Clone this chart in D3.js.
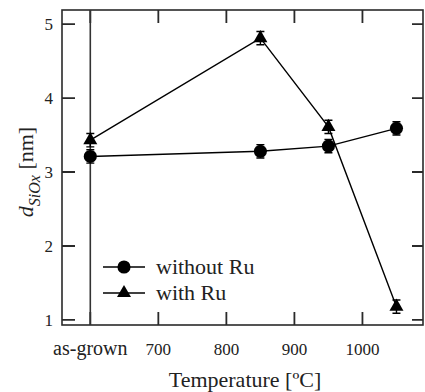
<!DOCTYPE html>
<html><head><meta charset="utf-8">
<script src="https://cdn.jsdelivr.net/npm/d3@7"></script>
<style>body{margin:0;background:#fff}svg{display:block}</style>
</head><body>
<script>
const temps = [600, 850, 950, 1050];
const withoutRu = [3.21, 3.28, 3.35, 3.59];
const withRu = [3.43, 4.81, 3.61, 1.18];
const errWithout = [0.09, 0.09, 0.09, 0.09];
const errWith = [0.09, 0.09, 0.09, 0.09];
const xTickVals = [600, 700, 800, 900, 1000];
const xTickLabels = ["as-grown", "700", "800", "900", "1000"];
const yTickVals = [1, 2, 3, 4, 5];
const seriesNames = ["without Ru", "with Ru"];

const FONT = "'Liberation Serif', serif";
const W = 425, H = 392;
const L = 62, R = 423, T = 10, B = 325;
const svg = d3.select("body").append("svg").attr("width", W).attr("height", H);
const x = d3.scaleLinear().domain([558.4, 1089]).range([L, R]);
const y = d3.scaleLinear().domain([0.932, 5.19]).range([B, T]);
const frame = "#2a2a2a";

svg.append("rect").attr("x", L).attr("y", T).attr("width", R - L).attr("height", B - T)
  .attr("fill", "none").attr("stroke", frame).attr("stroke-width", 1.6);

// ticks (inward)
const ticks = svg.append("g").attr("stroke", frame).attr("stroke-width", 1.8).attr("fill", "none");
xTickVals.forEach(v => {
  ticks.append("path").attr("d", `M${x(v)},${B}V${B - 13}M${x(v)},${T}V${T + 13}`);
});
yTickVals.forEach(v => {
  ticks.append("path").attr("d", `M${L},${y(v)}H${L + 13}M${R},${y(v)}H${R - 11}`);
});

// vertical line at as-grown
svg.append("path").attr("d", `M${x(600)},${T}V${B}`)
  .attr("stroke", "#333").attr("stroke-width", 1.6);

// tick labels
xTickVals.forEach((v, i) => {
  svg.append("text").attr("x", x(v)).attr("y", 355)
    .attr("text-anchor", "middle").attr("fill", "#222")
    .style("font-family", FONT).style("font-size", (i === 0 ? 20 : 17) + "px")
    .text(xTickLabels[i]);
});
yTickVals.forEach(v => {
  svg.append("text").attr("x", 53).attr("y", y(v) + 6).attr("fill", "#222")
    .attr("text-anchor", "end").style("font-family", FONT).style("font-size", "17px").text(v);
});

// axis titles
svg.append("text").attr("x", 245).attr("y", 387).attr("text-anchor", "middle")
  .attr("fill", "#222").style("font-family", FONT).style("font-size", "22px").text("Temperature [ºC]");
const yt = svg.append("text").attr("transform", "translate(33,172) rotate(-90)")
  .attr("text-anchor", "middle").style("font-family", FONT).style("font-size", "22px").attr("fill", "#222");
yt.append("tspan").style("font-style", "italic").text("d");
yt.append("tspan").style("font-style", "italic").style("font-size", "16px").attr("dy", 7).text("SiOx");
yt.append("tspan").attr("dy", -7).text(" [nm]");

const line = d3.line().x(d => x(d[0])).y(d => y(d[1]));
const triPath = d3.symbol().type(d3.symbolTriangle).size(85)();
const circPath = d3.symbol().type(d3.symbolCircle).size(135)();

function drawSeries(vals, errs, path) {
  const pts = temps.map((t, i) => [t, vals[i], errs[i]]);
  svg.append("path").datum(pts).attr("d", line).attr("fill", "none")
    .attr("stroke", "#000").attr("stroke-width", 1.4);
  pts.forEach(p => {
    const cx = x(p[0]), y1 = y(p[1] + p[2]), y2 = y(p[1] - p[2]);
    svg.append("path").attr("d", `M${cx},${y1}V${y2}M${cx - 4},${y1}H${cx + 4}M${cx - 4},${y2}H${cx + 4}`)
      .attr("stroke", "#000").attr("stroke-width", 1.4).attr("fill", "none");
    svg.append("path").attr("d", path).attr("transform", `translate(${cx},${y(p[1])})`).attr("fill", "#000");
  });
}
drawSeries(withRu, errWith, triPath);
drawSeries(withoutRu, errWithout, circPath);

// legend
const leg = [[circPath, 267], [triPath, 293]];
leg.forEach((l, i) => {
  svg.append("path").attr("d", `M103,${l[1]}H145`).attr("stroke", "#000").attr("stroke-width", 1.4);
  svg.append("path").attr("d", l[0]).attr("transform", `translate(124,${l[1]})`).attr("fill", "#000");
  svg.append("text").attr("x", 156).attr("y", l[1] + 7).style("font-family", FONT).style("font-size", "22px")
    .attr("fill", "#222").text(seriesNames[i]);
});
</script>
</body></html>
